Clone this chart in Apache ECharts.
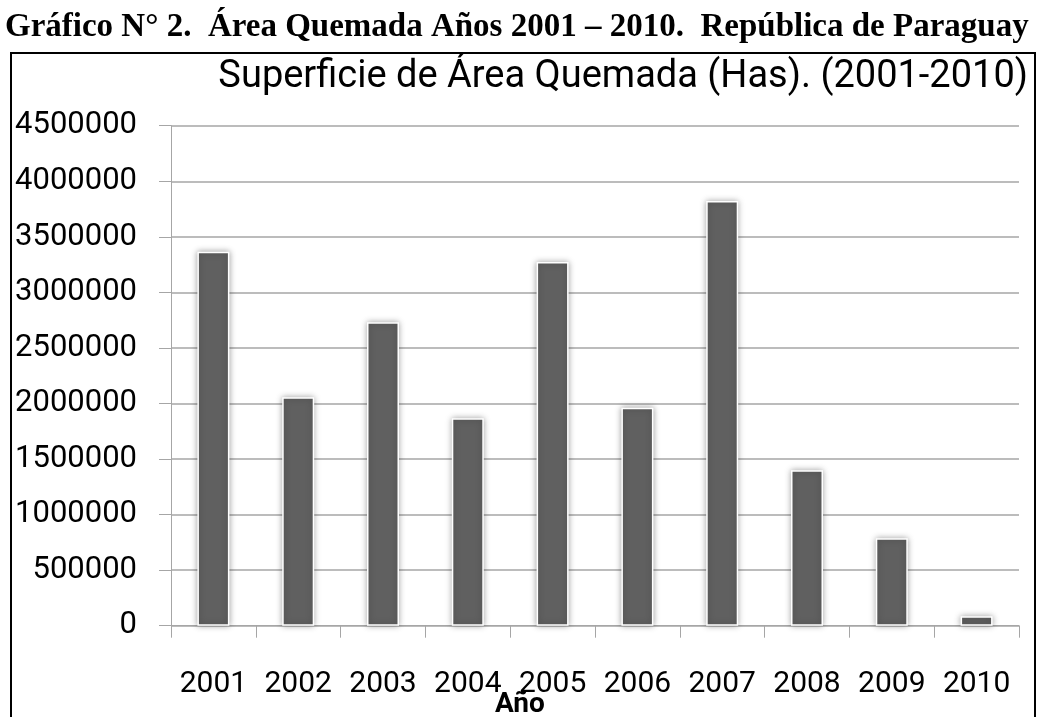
<!DOCTYPE html>
<html>
<head>
<meta charset="utf-8">
<script src="https://cdn.jsdelivr.net/npm/echarts@6/dist/echarts.min.js"></script>
<style>
  html, body { margin: 0; padding: 0; background: #fff; }
  #main { width: 1038px; height: 717px; }
</style>
</head>
<body>
<div id="main"></div>
<script>
// datos
const years = ['2001', '2002', '2003', '2004', '2005', '2006', '2007', '2008', '2009', '2010']
const burnedArea = [3366000, 2056000, 2731000, 1867000, 3273000, 1962000, 3822000, 1399000, 787000, 85000]
const yTicks = { min: 0, max: 4500000, step: 500000 }

const gridColor = '#a6a6a6'
const chartFont = 'Roboto'

const chart = echarts.init(document.getElementById('main'), null, { renderer: 'canvas' })

chart.setOption({
  backgroundColor: '#fff',
  animation: false,
  title: [
    {
      text: 'Gráfico N° 2.  Área Quemada Años 2001 – 2010.  República de Paraguay',
      left: 5,
      top: 11,
      padding: 0,
      textStyle: { fontFamily: 'Liberation Serif', fontWeight: 'bold', fontSize: 33, color: '#000' }
    },
    {
      text: 'Superficie de Área Quemada (Has). (2001-2010)',
      right: 10,
      top: 58,
      padding: 0,
      textStyle: { fontFamily: chartFont, fontWeight: 'normal', fontSize: 38, color: '#000' }
    },
    {
      text: 'Año',
      left: 495,
      top: 691,
      padding: 0,
      textStyle: { fontFamily: chartFont, fontWeight: 'bold', fontSize: 28, color: '#000' }
    }
  ],
  graphic: [
    {
      type: 'rect',
      shape: { x: 11, y: 53, width: 1024, height: 700 },
      style: { fill: 'none', stroke: '#000', lineWidth: 2 },
      silent: true
    }
  ],
  grid: {
    left: 171,
    right: 19,
    top: 125.7,
    bottom: 91.3,
    outerBoundsMode: 'none'
  },
  xAxis: {
    type: 'category',
    data: years,
    boundaryGap: true,
    axisLine: { lineStyle: { color: gridColor, width: 1 } },
    axisTick: { show: true, length: 12, lineStyle: { color: gridColor } },
    axisLabel: { interval: 0, margin: 44, fontFamily: chartFont, fontSize: 30, color: '#000' }
  },
  yAxis: {
    type: 'value',
    min: yTicks.min,
    max: yTicks.max,
    interval: yTicks.step,
    axisLine: { show: true, lineStyle: { color: gridColor, width: 1 } },
    axisTick: { show: true, length: 12, lineStyle: { color: gridColor } },
    splitLine: { show: true, lineStyle: { color: gridColor, width: 1.5 } },
    axisLabel: {
      margin: 34,
      fontFamily: chartFont,
      fontSize: 31,
      color: '#000',
      formatter: (v) => String(v)
    }
  },
  series: [
    {
      type: 'bar',
      data: burnedArea,
      barWidth: 32,
      itemStyle: {
        color: '#606060',
        borderColor: '#fff',
        borderWidth: 1.5,
        shadowColor: 'rgba(0, 0, 0, 0.35)',
        shadowBlur: 6
      }
    }
  ]
})
</script>
</body>
</html>
